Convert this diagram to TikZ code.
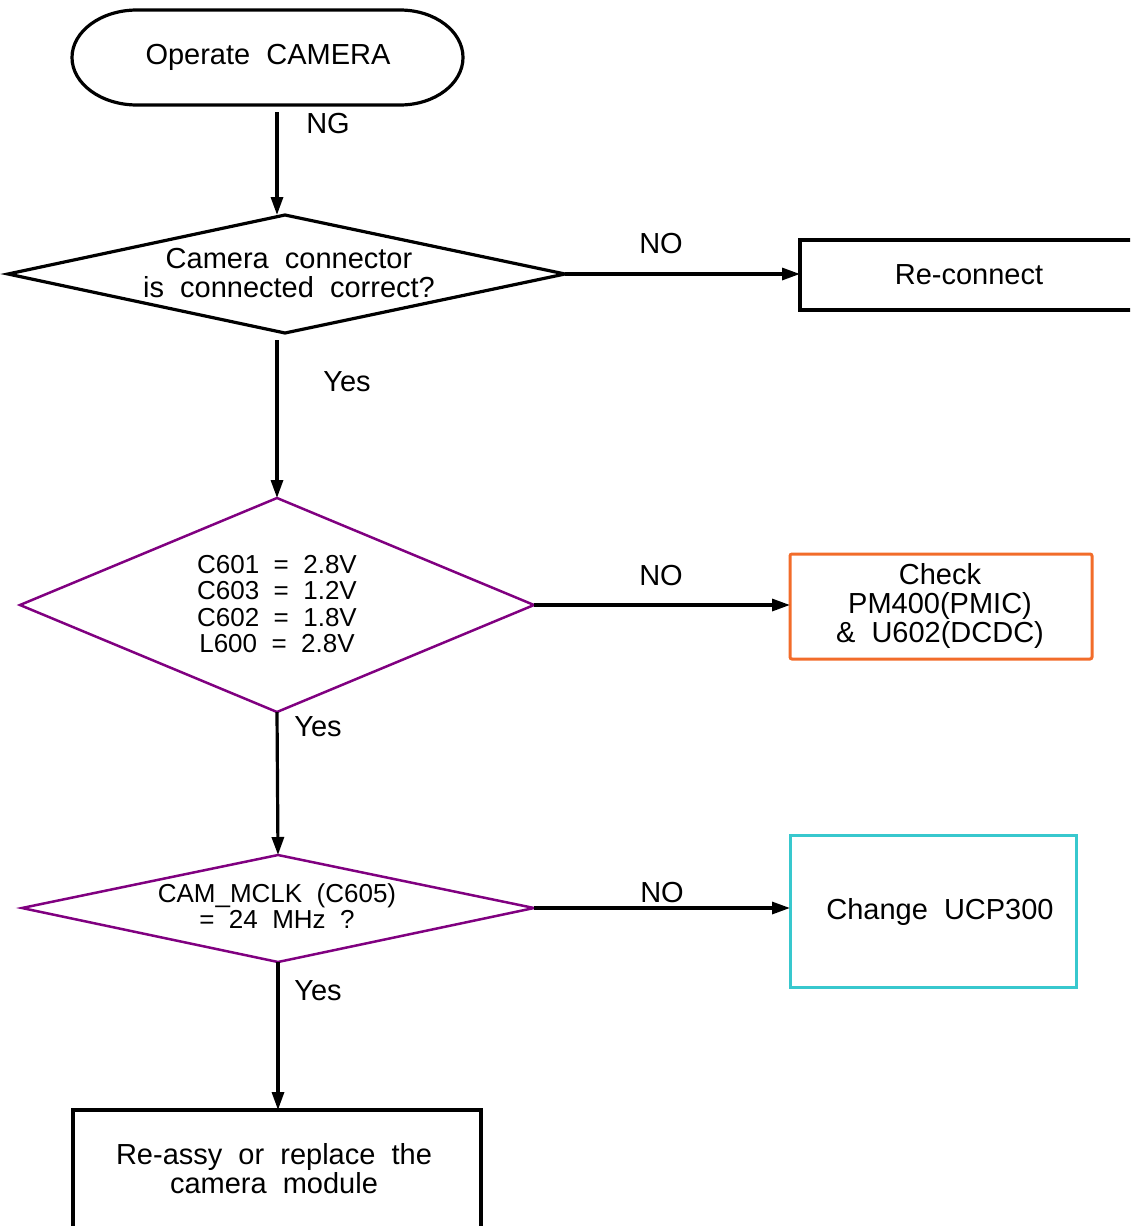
\documentclass[tikz,border=0pt]{standalone}
\usepackage{fontspec}
\setmainfont{Liberation Sans}
\usetikzlibrary{arrows.meta}
\definecolor{dpurple}{RGB}{128,0,128}
\definecolor{borange}{RGB}{242,108,42}
\definecolor{bcyan}{RGB}{56,200,206}
\tikzset{
  conn/.style={line width=3.2pt,-{Triangle[length=18pt,width=12pt]}},
  lbl/.style={font=\fontsize{29}{29}\selectfont, inner sep=0pt, text height=20.8pt, text depth=0pt},
  txt/.style={font=\fontsize{29}{29}\selectfont, inner sep=0pt, align=center},
  stxt/.style={font=\fontsize{26}{26.5}\selectfont, inner sep=0pt, align=center},
  blackline/.style={line width=3.2pt, draw=black},
  purpline/.style={line width=2.5pt, draw=dpurple, line join=miter},
  boxnode/.style={inner sep=0pt, outer sep=0pt, anchor=north west},
}
\begin{document}
\begin{tikzpicture}[x=1pt,y=-1pt]
\useasboundingbox (0,0) rectangle (1130,1226);
\clip (0,0) rectangle (1130,1226);
% start terminal
\draw[blackline] (137,10) -- (400,10) arc[start angle=-90,end angle=90,x radius=63,y radius=47.5]
  -- (137,105) arc[start angle=90,end angle=270,x radius=65,y radius=47.5] -- cycle;
\node[txt] (start) at (268,57) {Operate\ \ CAMERA};
\coordinate (startout) at (277,112);

% diamond 1
\coordinate (d1l) at (8,274);
\coordinate (d1t) at (285,215);
\coordinate (d1r) at (565,274);
\coordinate (d1b) at (285,333);
\draw[blackline, line join=miter] (d1l) -- (d1t) -- (d1r) -- (d1b) -- cycle;
\node[txt] (q1) at (289,273) {Camera\ \ connector\\ is\ \ connected\ \ correct?};
\coordinate (d1top) at (277,215);
\coordinate (d1out) at (277,340);

% reconnect box
\node[draw, line width=3.5pt, minimum width=345pt, minimum height=70pt, boxnode] (recon) at (800,240) {};
\node[lbl] (recontxt) at (969,274) {Re-connect};

% diamond 2
\coordinate (d2l) at (20,605);
\coordinate (d2t) at (277,498);
\coordinate (d2r) at (534,605);
\coordinate (d2b) at (277,712);
\draw[purpline] (d2l) -- (d2t) -- (d2r) -- (d2b) -- cycle;
\node[stxt] (q2) at (277,604) {C601\ \ =\ \ 2.8V\\C603\ \ =\ \ 1.2V\\C602\ \ =\ \ 1.8V\\L600\ \ =\ \ 2.8V};

% check box
\node[draw=borange, line width=3pt, rounded corners=2pt, minimum width=302pt, minimum height=105pt, boxnode] (check) at (790,554) {};
\node[txt] (checktxt) at (940,606) {Check\\PM400(PMIC)\\\&\ \ U602(DCDC)};

% diamond 3
\coordinate (d3l) at (22,908);
\coordinate (d3t) at (278,855);
\coordinate (d3r) at (534,908);
\coordinate (d3b) at (278,962);
\draw[purpline] (d3l) -- (d3t) -- (d3r) -- (d3b) -- cycle;
\node[stxt] (q3) at (277,906) {CAM\_MCLK\ \ (C605)\\=\ \ 24\ \ MHz\ \ ?};

% change box
\node[draw=bcyan, line width=3pt, minimum width=286pt, minimum height=152pt, boxnode] (change) at (790,835) {};
\node[lbl] (changetxt) at (940,909) {Change\ \ UCP300};

% bottom box
\node[draw, line width=3.5pt, minimum width=408pt, minimum height=140pt, boxnode] (reassy) at (73,1110) {};
\node[txt] (reassytxt) at (274,1169) {Re-assy\ \ or\ \ replace\ \ the\\camera\ \ module};

% connectors
\draw[conn] (startout) -- (d1top);
\draw[conn] (d1r) -- (d1r -| recon.west);
\draw[conn] (d1out) -- (d2t);
\draw[conn] (d2r) -- (d2r -| check.west);
\draw[conn] (d2b) -- (d3t);
\draw[conn] (d3r) -- (d3r -| change.west);
\draw[conn] (d3b) -- (reassy.north -| d3b);

% labels
\node[lbl] (ng) at (328,123) {NG};
\node[lbl] (no1) at (661,243) {NO};
\node[lbl] (yes1) at (347,381) {Yes};
\node[lbl] (no2) at (661,575) {NO};
\node[lbl] (yes2) at (318,726) {Yes};
\node[lbl] (no3) at (662,892) {NO};
\node[lbl] (yes3) at (318,990) {Yes};
\end{tikzpicture}
\end{document}
